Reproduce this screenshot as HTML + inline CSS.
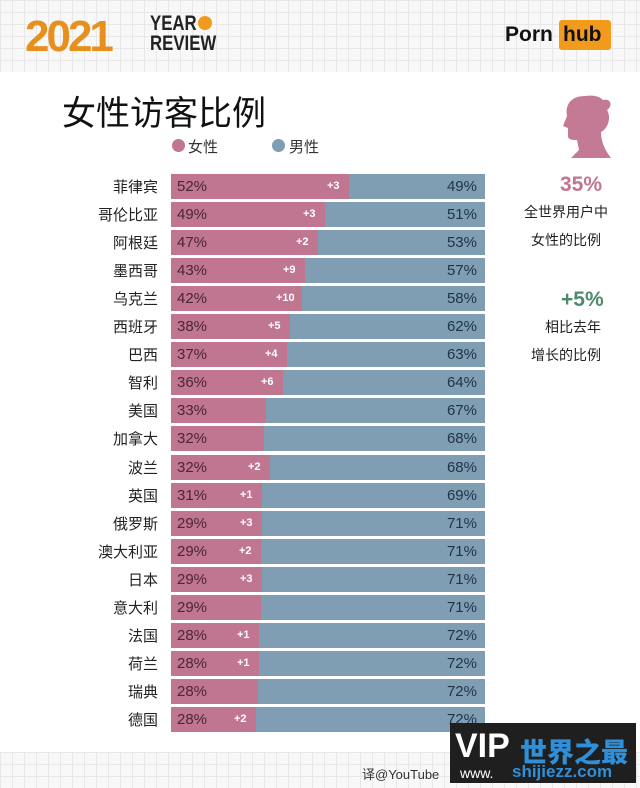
<!DOCTYPE html>
<html><head><meta charset="utf-8"><style>
body{margin:0;width:640px;height:788px;overflow:hidden;background:#fff;position:relative;font-family:"Liberation Sans","Noto Sans CJK SC",sans-serif;}
.grid{position:absolute;left:0;width:640px;background-color:#f8f8f8;background-image:linear-gradient(#e8e8e8 1px,transparent 1px),linear-gradient(90deg,#e8e8e8 1px,transparent 1px);background-size:12px 12px;}
.a{position:absolute;}
.row{position:absolute;left:171px;width:314px;height:25px;background:#7f9db3;}
.f{position:absolute;left:0;top:0;height:25px;background:#c07590;}
.fp{position:absolute;left:6px;top:4px;font-size:15px;color:#4a2636;}
.mp{position:absolute;right:8px;top:4px;font-size:15px;color:#203448;}
.inc{position:absolute;top:6px;font-size:11px;color:#fff;font-weight:bold;}
.lab{position:absolute;left:40px;width:118px;text-align:right;font-size:15px;color:#222;}
</style></head><body>
<div class="grid" style="top:0;height:72px"></div>
<div class="grid" style="top:752px;height:36px"></div>
<div class="a" style="left:25px;top:12px;font-size:44px;font-weight:900;color:#e8901e;letter-spacing:-3px;">2021</div>
<div class="a" style="left:150px;top:14px;font-size:21px;font-weight:bold;line-height:20px;color:#222;transform:scaleX(0.8);transform-origin:left">YEAR<br>REVIEW</div>
<div class="a" style="left:198px;top:16px;width:14px;height:14px;border-radius:50%;background:#f09a20"></div>
<div class="a" style="left:505px;top:23px;font-size:21px;font-weight:bold;color:#111">Porn</div>
<div class="a" style="left:559px;top:20px;width:52px;height:30px;background:#f29a1c;border-radius:3px"></div>
<div class="a" style="left:563px;top:23px;font-size:21px;font-weight:bold;color:#111">hub</div>
<div class="a" style="left:62px;top:86px;font-size:34px;color:#111">女性访客比例</div>
<div class="a" style="left:172px;top:139px;width:13px;height:13px;border-radius:50%;background:#c07590"></div>
<div class="a" style="left:188px;top:136px;font-size:15px;color:#333">女性</div>
<div class="a" style="left:272px;top:139px;width:13px;height:13px;border-radius:50%;background:#7f9db3"></div>
<div class="a" style="left:289px;top:136px;font-size:15px;color:#333">男性</div>
<svg class="a" style="left:555px;top:92px" width="60" height="70" viewBox="0 0 60 70"><path d="M30 4 C15 4 10 14 12 24 L8 34 L13 36 L13 44 C13 48 18 48 22 48 L24 58 L16 66 L56 66 C50 58 46 50 46 40 C54 36 56 24 52 18 C58 14 56 6 48 8 C44 4 38 3 30 4Z" fill="#c47a94"/></svg>
<div class="a" style="left:560px;top:173px;font-size:21px;font-weight:bold;color:#c07590">35%</div>
<div class="a" style="left:524px;top:202px;font-size:14px;color:#222">全世界用户中</div>
<div class="a" style="left:531px;top:230px;font-size:14px;color:#222">女性的比例</div>
<div class="a" style="left:561px;top:288px;font-size:21px;font-weight:bold;color:#4f8a6e">+5%</div>
<div class="a" style="left:545px;top:317px;font-size:14px;color:#222">相比去年</div>
<div class="a" style="left:531px;top:345px;font-size:14px;color:#222">增长的比例</div>
<div id="rows"></div>
<div class="a" style="left:362px;top:764px;font-size:13px;color:#333">译@YouTube</div>
<div class="a" style="left:450px;top:723px;width:186px;height:60px;background:#1f1f1f"></div>
<div class="a" style="left:455px;top:727px;font-size:34px;font-weight:900;color:#fff">VIP</div>
<div class="a" style="left:520px;top:731px;font-size:27px;font-weight:900;color:#2f8fd8">世界之最</div>
<div class="a" style="left:460px;top:765px;font-size:14px;color:#fff">www.</div>
<div class="a" style="left:512px;top:762px;font-size:17px;font-weight:bold;color:#2f8fd8">shijiezz.com</div>
<script>
var d=[["菲律宾",52,"+3",49,349],["哥伦比亚",49,"+3",51,325],["阿根廷",47,"+2",53,318],["墨西哥",43,"+9",57,305],["乌克兰",42,"+10",58,302],["西班牙",38,"+5",62,290],["巴西",37,"+4",63,287],["智利",36,"+6",64,283],["美国",33,"",67,266],["加拿大",32,"",68,264],["波兰",32,"+2",68,270],["英国",31,"+1",69,262],["俄罗斯",29,"+3",71,262],["澳大利亚",29,"+2",71,261],["日本",29,"+3",71,262],["意大利",29,"",71,261],["法国",28,"+1",72,259],["荷兰",28,"+1",72,259],["瑞典",28,"",72,258],["德国",28,"+2",72,256]];
var h="";
d.forEach(function(r,i){var y=Math.round(174+i*28.05);var w=r[4]-171;
h+='<div class="lab" style="top:'+(y+2)+'px">'+r[0]+'</div><div class="row" style="top:'+y+'px"><div class="f" style="width:'+w+'px"></div><div class="fp">'+r[1]+'%</div>'+(r[2]?'<div class="inc" style="left:'+(w-(r[2].length>2?26:22))+'px">'+r[2]+'</div>':'')+'<div class="mp">'+r[3]+'%</div></div>';});
document.getElementById("rows").innerHTML=h;
</script>
</body></html>
